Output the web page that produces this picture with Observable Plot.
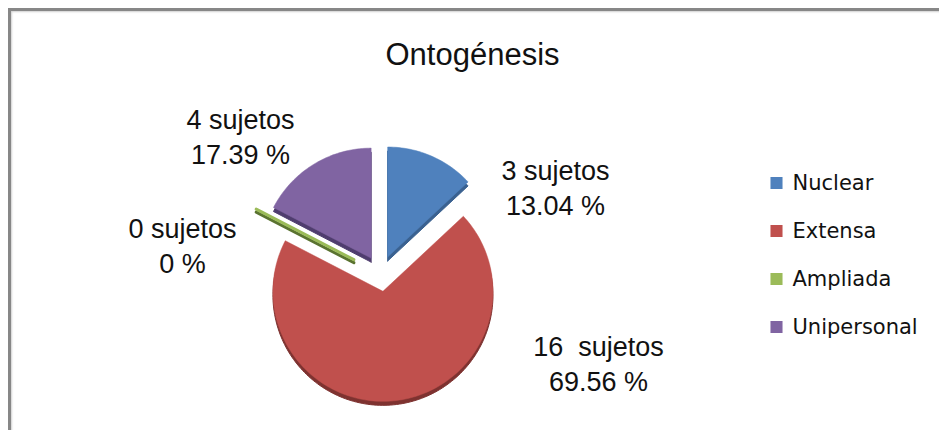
<!DOCTYPE html>
<html><head><meta charset="utf-8">
<script src="https://cdn.jsdelivr.net/npm/d3@7"></script>
<script src="https://cdn.jsdelivr.net/npm/@observablehq/plot@0.6"></script>
<style>
html,body{margin:0;padding:0;background:#fff;}
#wrap{position:relative;width:939px;height:430px;overflow:hidden;background:#fff;}
#frame{position:absolute;left:8px;top:8px;width:1000px;height:500px;border-top:3px solid #878787;border-left:3px solid #878787;box-shadow:inset 1px 1px 2px #d0d0d0;}
#chart{position:absolute;left:0;top:0;}
</style></head><body>
<div id="wrap"><div id="frame"></div><div id="chart"></div></div>
<script>
// ---- data ----
const title = "Ontogénesis";
const categories = ["Nuclear", "Extensa", "Ampliada", "Unipersonal"];
const sujetos = [3, 16, 0, 4];
const porcentajes = [13.04, 69.56, 0, 17.39];
const etiquetas = ["3 sujetos", "16  sujetos", "0 sujetos", "4 sujetos"];
const colores = ["#4F81BD", "#C0504D", "#9BBB59", "#8064A2"];
const sombras = ["#3a6190", "#7e3230", "#5a7330", "#4f3d6e"];

// ---- layout ----
const W = 939, H = 430;
const cx = 380, cy = 273, R = 110, explode = 18, explodeZero = 30;
const labelAt = [[555, 186], [598, 362], [182, 244], [240, 135]];
const titleX = 472, titleY = 55;
const legendSquareX = 776, legendTextX = 792, legendY0 = 182.5, legendStep = 48;

const rows = categories.map((c, i) => ({cat: c, i, n: sujetos[i], pct: porcentajes[i], label: etiquetas[i], color: colores[i], shadow: sombras[i]}));
const arcs = d3.pie().sort(null).value(d => d.n)(rows);

// polygon vertices for each slice, derived from the pie angles
const pts = [];
arcs.forEach(a => {
  const d = a.data;
  const mid = (a.startAngle + a.endAngle) / 2;
  const e = d.n > 0 ? explode : explodeZero;
  const vx = cx + e * Math.sin(mid), vy = cy - e * Math.cos(mid);
  const steps = Math.max(1, Math.ceil((a.endAngle - a.startAngle) / (Math.PI / 120)));
  pts.push({...d, x: vx, y: vy});
  for (let k = 0; k <= steps; k++) {
    const t = a.startAngle + (a.endAngle - a.startAngle) * k / steps;
    pts.push({...d, x: vx + R * Math.sin(t), y: vy - R * Math.cos(t)});
  }
  pts.push({...d, x: vx, y: vy});
});
const filled = pts.filter(p => p.n > 0);
const zero = pts.filter(p => p.n === 0);

const fmtPct = p => (p === 0 ? "0" : p.toFixed(2)) + " %";

const plot = Plot.plot({
  width: W, height: H, margin: 0,
  x: {domain: [0, W], range: [0, W], axis: null},
  y: {domain: [0, H], range: [0, H], axis: null},
  color: {type: "identity"},
  style: {background: "transparent", overflow: "visible"},
  marks: [
    // 3D depth (shadow)
    Plot.line(filled, {x: "x", y: "y", z: "cat", fill: "shadow", stroke: "shadow", strokeWidth: 1, dy: 4, curve: "linear"}),
    Plot.line(zero, {x: "x", y: "y", z: "cat", stroke: "shadow", strokeWidth: 3, dy: 3}),
    // slices
    Plot.line(filled, {x: "x", y: "y", z: "cat", fill: "color", stroke: "color", strokeWidth: 0.5, curve: "linear"}),
    Plot.line(zero, {x: "x", y: "y", z: "cat", stroke: "color", strokeWidth: 3}),
    // data labels
    Plot.text(rows, {
      x: d => labelAt[d.i][0], y: d => labelAt[d.i][1],
      text: d => d.label + "\n" + fmtPct(d.pct),
      fontSize: 27, lineHeight: 1.28, fill: "#111",
      fontFamily: "'Liberation Sans', Arial, sans-serif"
    }),
    // title
    Plot.text([title], {x: () => titleX, y: () => titleY, text: d => d, fontSize: 31, fill: "#111",
      fontFamily: "'Liberation Sans', Arial, sans-serif"}),
    // legend
    Plot.dot(rows, {x: () => legendSquareX, y: d => legendY0 + d.i * legendStep, symbol: "square", r: 6.8, fill: "color", stroke: null}),
    Plot.text(rows, {x: () => legendTextX, y: d => legendY0 + d.i * legendStep, text: "cat", textAnchor: "start",
      fontSize: 21, fill: "#111", fontFamily: "'DejaVu Sans', Verdana, sans-serif"})
  ]
});
document.getElementById("chart").appendChild(plot);
</script>
</body></html>
